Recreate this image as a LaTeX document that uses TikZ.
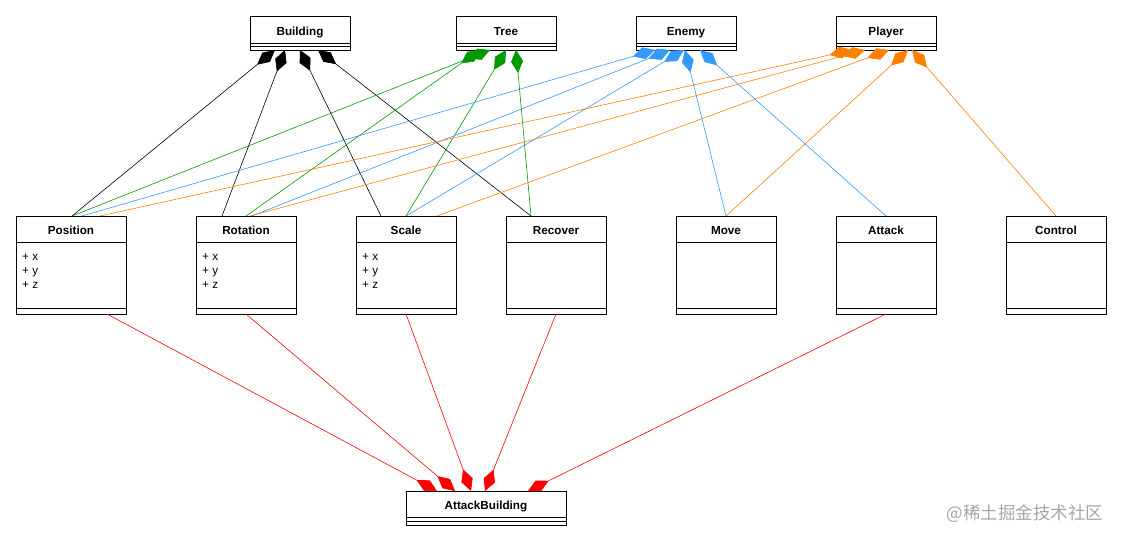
\documentclass[tikz,border=0pt]{standalone}
\usepackage{fontspec}
\setmainfont{Liberation Sans}
\newfontfamily\cjk{Noto Sans CJK SC}
\usetikzlibrary{positioning,arrows.meta}
\definecolor{treegreen}{RGB}{0,153,0}
\definecolor{enemyblue}{RGB}{51,153,255}
\definecolor{playerorange}{RGB}{255,128,0}
\tikzset{
  cls/.style={draw, line width=0.9pt, fill=white, inner sep=0pt, outer sep=0pt,
    text height=11pt, text depth=0pt, font=\fontsize{11.7}{14}\selectfont\bfseries},
  part/.style={draw, line width=0.9pt, fill=white, inner sep=0pt, outer sep=0pt},
  attr/.style={align=left, inner sep=0pt, anchor=north west, font=\fontsize{11.7}{14}\selectfont},
  comp/.style={draw=#1, line width=0.6pt, arrows={Diamond[length=23pt,width=12pt]-}}
}
\begin{document}
\begin{tikzpicture}[x=1pt,y=-1pt]
\useasboundingbox (0,0) rectangle (1123,542);
% classes on top
\foreach \nm/\lbl/\x in {building/Building/300, tree/Tree/506, enemy/Enemy/686, player/Player/886} {
  \node[cls, minimum width=100pt, minimum height=27pt] (\nm) at (\x,29.5) {\lbl};
  \node[part, minimum width=100pt, minimum height=3.5pt, below=0pt of \nm] (\nm-a) {};
  \node[part, minimum width=100pt, minimum height=3.5pt, below=0pt of \nm-a] (\nm-m) {};
}
% components
\foreach \nm/\lbl/\x/\w in {position/Position/71/110, rotation/Rotation/246/100, scale/Scale/406/100,
    recover/Recover/556/100, move/Move/726/100, attack/Attack/886/100, control/Control/1056/100} {
  \node[cls, minimum width=\w pt, minimum height=26pt] (\nm) at (\x,229) {\lbl};
  \node[part, minimum width=\w pt, minimum height=66pt, below=0pt of \nm] (\nm-a) {};
  \node[part, minimum width=\w pt, minimum height=6pt, below=0pt of \nm-a] (\nm-m) {};
}
\foreach \nm in {position, rotation, scale}
  \node[attr] (\nm-t) at ([xshift=6pt,yshift=-12pt]\nm-a.north west) {+ x\\+ y\\+ z};
% system at the bottom
\node[cls, minimum width=160pt, minimum height=26.5pt] (atkbuilding) at (486,504.25) {AttackBuilding};
\node[part, minimum width=160pt, minimum height=3.5pt, below=0pt of atkbuilding] (atkbuilding-a) {};
\node[part, minimum width=160pt, minimum height=4pt, below=0pt of atkbuilding-a] (atkbuilding-m) {};
% compositions
\foreach \s/\nm/\t in {25/position/56, 35/rotation/26, 50/scale/25, 68/recover/25}
  \draw[comp=black] ([xshift=\s pt]building-m.south west) -- ([xshift=\t pt]\nm.north west);
\foreach \s/\nm/\t in {34/position/56, 24/rotation/50, 50/scale/50, 60/recover/25}
  \draw[comp=treegreen] ([xshift=\s pt]tree-m.south west) -- ([xshift=\t pt]\nm.north west);
\foreach \s/\nm/\t in {19/position/66, 34/rotation/56, 48/scale/50, 49/move/50, 64/attack/50}
  \draw[comp=enemyblue] ([xshift=\s pt]enemy-m.south west) -- ([xshift=\t pt]\nm.north west);
\foreach \s/\nm/\t in {16/position/84, 29/rotation/54, 53/scale/81, 72/move/50, 76/control/50}
  \draw[comp=playerorange] ([xshift=\s pt]player-m.south west) -- ([xshift=\t pt]\nm.north west);
\foreach \s/\nm/\t in {31/position/91, 49/rotation/50, 65/scale/50, 79/recover/50, 122/attack/50}
  \draw[comp=red] ([xshift=\s pt]atkbuilding.north west) -- ([xshift=\t pt]\nm-m.south west);
\node[text=black!35, font=\cjk\fontsize{17.5}{20}\selectfont] (mark) at (1025,514) {@稀土掘金技术社区};
\end{tikzpicture}
\end{document}
